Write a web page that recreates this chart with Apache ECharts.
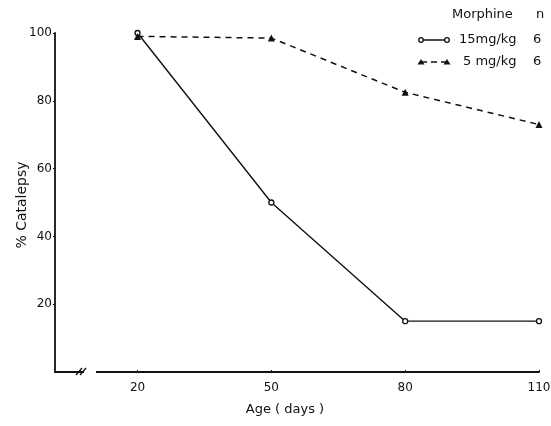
<!DOCTYPE html>
<html><head><meta charset="utf-8">
<script src="https://cdn.jsdelivr.net/npm/echarts@6/dist/echarts.min.js"></script>
<style>html,body{margin:0;padding:0;background:#fff}#c{width:551px;height:426px}</style>
</head><body><div id="c"></div>
<script>
const ages = [20, 50, 80, 110];
const xTicks = [20, 50, 80, 110];
const yTicks = [20, 40, 60, 80, 100];
const mg15 = [100, 50, 15, 15];
const mg5 = [99, 98.5, 82.5, 73];
const legendTitle = 'Morphine';
const legendN = 'n';
const seriesNames = ['15mg/kg', '5 mg/kg'];
const seriesN = ['6', '6'];
const xName = 'Age ( days )';
const yName = '% Catalepsy';

const FONT = 'DejaVu Sans';
const INK = '#111';
const chart = echarts.init(document.getElementById('c'), null, {renderer: 'canvas'});
const pair = (xs, ys) => xs.map((x, i) => [x, ys[i]]);

const legendRow = (y, name, n, dashed, sym) => {
  const ch = [
    {type: 'line', shape: {x1: 421, y1: y, x2: 447, y2: y},
     style: {stroke: INK, lineWidth: 1.5, lineDash: dashed ? [6, 4] : null}}
  ];
  [421, 447].forEach(x => {
    if (sym === 'circle') ch.push({type: 'circle', shape: {cx: x, cy: y, r: 2.3}, style: {fill: '#fff', stroke: INK, lineWidth: 1.3}});
    else ch.push({type: 'polygon', shape: {points: [[x - 3.5, y + 2.5], [x + 3.5, y + 2.5], [x, y - 3]]}, style: {fill: INK}});
  });
  ch.push({type: 'text', x: dashed ? 463 : 459, y: y, style: {text: name, font: '13px ' + FONT, fill: INK, verticalAlign: 'middle'}});
  ch.push({type: 'text', x: 533, y: y, style: {text: n, font: '13px ' + FONT, fill: INK, verticalAlign: 'middle'}});
  return ch;
};

chart.setOption({
  animation: false,
  grid: {left: 55, right: 12, top: 33, bottom: 54, outerBoundsMode: 'none', containLabel: false},
  xAxis: {
    type: 'value', min: 1.5, max: 110,
    axisLine: {lineStyle: {color: INK, width: 1.8}},
    axisTick: {show: true, length: 2, inside: true, customValues: xTicks, lineStyle: {color: INK}},
    axisLabel: {customValues: xTicks, color: INK, fontFamily: FONT, fontSize: 12, margin: 10},
    splitLine: {show: false}
  },
  yAxis: {
    type: 'value', min: 0, max: 100,
    axisLine: {show: true, lineStyle: {color: INK, width: 1.8}},
    axisTick: {show: true, length: 2, customValues: yTicks, lineStyle: {color: INK}},
    axisLabel: {customValues: yTicks, color: INK, fontFamily: FONT, fontSize: 12, margin: 3},
    splitLine: {show: false}
  },
  series: [
    {name: seriesNames[0], type: 'line', data: pair(ages, mg15),
     symbol: 'circle', symbolSize: 5, showSymbol: true,
     lineStyle: {color: INK, width: 1.4},
     itemStyle: {color: '#fff', borderColor: INK, borderWidth: 1.3}},
    {name: seriesNames[1], type: 'line', data: pair(ages, mg5),
     symbol: 'triangle', symbolSize: 7,
     lineStyle: {color: INK, width: 1.5, type: [6, 5]},
     itemStyle: {color: INK}}
  ],
  graphic: [
    {type: 'rect', shape: {x: 84, y: 368, width: 12, height: 8}, style: {fill: '#fff'}, z: 100},
    {type: 'line', shape: {x1: 76, y1: 375, x2: 82, y2: 368}, style: {stroke: INK, lineWidth: 1.3}, z: 101},
    {type: 'line', shape: {x1: 80, y1: 375, x2: 86, y2: 368}, style: {stroke: INK, lineWidth: 1.3}, z: 101},
    {type: 'text', x: 285, y: 410, style: {text: xName, font: '13px ' + FONT, fill: INK, align: 'center', verticalAlign: 'middle', letterSpacing: 1}},
    {type: 'text', x: 22, y: 205, rotation: Math.PI / 2, style: {text: yName, font: '14px ' + FONT, fill: INK, align: 'center', verticalAlign: 'middle', letterSpacing: 3}},
    {type: 'text', x: 452, y: 15, style: {text: legendTitle, font: '13px ' + FONT, fill: INK, verticalAlign: 'middle'}},
    {type: 'text', x: 536, y: 15, style: {text: legendN, font: '13px ' + FONT, fill: INK, verticalAlign: 'middle'}},
    ...legendRow(40, seriesNames[0], seriesN[0], false, 'circle'),
    ...legendRow(62, seriesNames[1], seriesN[1], true, 'triangle')
  ]
});
</script></body></html>
